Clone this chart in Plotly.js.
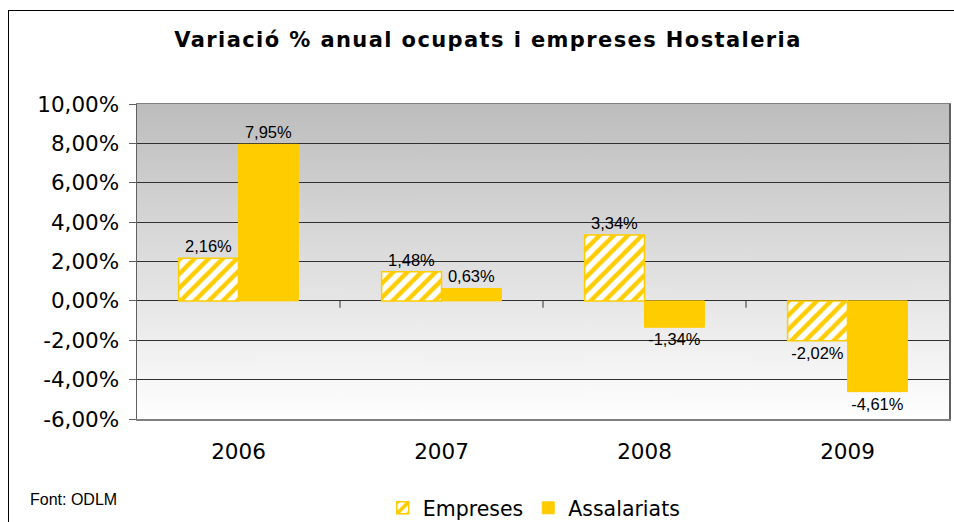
<!DOCTYPE html>
<html>
<head>
<meta charset="utf-8">
<script src="https://cdn.plot.ly/plotly-3.0.1.min.js"></script>
<style>
  html, body { margin: 0; padding: 0; background: #fff; }
  #wrap { position: relative; width: 954px; height: 522px; overflow: hidden; }
  #chart { width: 954px; height: 522px; }
  #frame { position: absolute; left: 8px; top: 10px; width: 1000px; height: 600px;
           border-left: 1.5px solid #000; border-top: 1.5px solid #000; pointer-events: none; }
  .gtitle { letter-spacing: 1.4px; }
</style>
</head>
<body>
<div id="wrap">
  <div id="chart"></div>
  <div id="frame"></div>
</div>
<script>
const categories = ['2006', '2007', '2008', '2009'];
const empreses = [2.16, 1.48, 3.34, -2.02];
const assalariats = [7.95, 0.63, -1.34, -4.61];
const seriesNames = ['Empreses', 'Assalariats'];
const yTickVals = [-6, -4, -2, 0, 2, 4, 6, 8, 10];
const yTickLabels = ['-6,00%', '-4,00%', '-2,00%', '0,00%', '2,00%', '4,00%', '6,00%', '8,00%', '10,00%'];
const titleText = 'Variació % anual ocupats i empreses Hostaleria';
const sourceText = 'Font: ODLM';

const fmt = v => v.toFixed(2).replace('.', ',') + '%';

// gradient background for plot area
const cv = document.createElement('canvas');
cv.width = 10; cv.height = 300;
const ctx = cv.getContext('2d');
const g = ctx.createLinearGradient(0, 0, 0, 300);
g.addColorStop(0, '#bdbdbd');
g.addColorStop(1, '#ffffff');
ctx.fillStyle = g;
ctx.fillRect(0, 0, 10, 300);
const bgURL = cv.toDataURL();

const yellow = '#FFCC00';
const labelFont = { family: 'Liberation Sans, Arial, sans-serif', size: 16.5, color: '#000' };

const traces = [
  {
    type: 'bar', name: seriesNames[0], x: categories, y: empreses,
    marker: { color: '#ffffff', line: { color: yellow, width: 1.5 },
              pattern: { shape: '/', fgcolor: yellow, bgcolor: '#ffffff', size: 10, solidity: 0.45 } },
    text: empreses.map(fmt), textposition: 'outside', cliponaxis: false,
    textfont: labelFont, hoverinfo: 'none'
  },
  {
    type: 'bar', name: seriesNames[1], x: categories, y: assalariats,
    marker: { color: yellow, line: { color: yellow, width: 1 } },
    text: assalariats.map(fmt), textposition: 'outside', cliponaxis: false,
    textfont: labelFont, hoverinfo: 'none'
  }
];

const boundaryTicks = [0.5, 1.5, 2.5].map(v => ({
  type: 'line', xref: 'x', yref: 'y', x0: v, x1: v, y0: 0, y1: -0.35,
  line: { color: '#333', width: 1 }
}));

const axisFont = { family: 'DejaVu Sans, Verdana, sans-serif', size: 21.5, color: '#000' };

const layout = {
  width: 954, height: 522,
  margin: { l: 137, r: 5, t: 104, b: 103 },
  paper_bgcolor: '#ffffff',
  plot_bgcolor: 'rgba(0,0,0,0)',
  separators: ',.',
  barmode: 'group',
  bargap: 0.41,
  bargroupgap: 0,
  title: {
    text: '<b>' + titleText + '</b>',
    x: 488 / 954, xref: 'container', xanchor: 'center',
    y: 1 - 40 / 522, yref: 'container', yanchor: 'middle',
    font: { family: 'DejaVu Sans, Verdana, sans-serif', size: 21, color: '#000' }
  },
  xaxis: {
    type: 'category',
    showline: true, linecolor: '#808080', linewidth: 1.5, mirror: true,
    showgrid: false, ticks: '', zeroline: false,
    tickfont: axisFont,
    ticklabelstandoff: 13
  },
  yaxis: {
    range: [-6, 10],
    tickmode: 'array', tickvals: yTickVals, ticktext: yTickLabels,
    showline: true, linecolor: '#606060', linewidth: 1.5, mirror: true,
    showgrid: true, gridcolor: '#303030', gridwidth: 1,
    zeroline: true, zerolinecolor: '#303030', zerolinewidth: 1,
    ticks: 'outside', ticklen: 7, tickcolor: '#606060',
    tickfont: axisFont,
    ticklabelstandoff: 5
  },
  showlegend: true,
  legend: {
    orientation: 'h', xref: 'container', x: 0.56, xanchor: 'center',
    yref: 'container', y: 1 - 508 / 522, yanchor: 'middle',
    font: { family: 'DejaVu Sans, Verdana, sans-serif', size: 20.5, color: '#000' },
    itemwidth: 30, tracegroupgap: 0, bgcolor: 'rgba(0,0,0,0)'
  },
  images: [{
    source: bgURL, xref: 'paper', yref: 'paper', x: 0, y: 1,
    sizex: 1, sizey: 1, sizing: 'stretch', xanchor: 'left', yanchor: 'top', layer: 'below'
  }],
  shapes: boundaryTicks,
  annotations: [{
    text: sourceText, xref: 'paper', yref: 'paper',
    x: (28 - 137) / 812, y: (419 - 499) / 315, xanchor: 'left', yanchor: 'middle', showarrow: false,
    font: { family: 'Liberation Sans Narrow, Liberation Sans, Arial, sans-serif', size: 16, color: '#000' }
  }]
};

Plotly.newPlot('chart', traces, layout, { displayModeBar: false, staticPlot: true });
</script>
</body>
</html>
